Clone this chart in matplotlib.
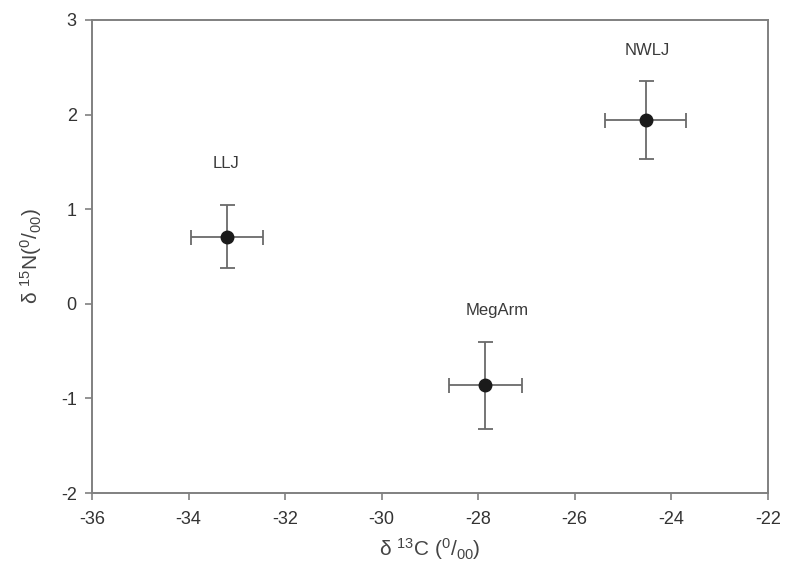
import matplotlib
matplotlib.use("Agg")
import matplotlib.pyplot as plt

plt.rcParams['font.family'] = ['Liberation Sans', 'DejaVu Sans']
plt.rcParams['mathtext.fontset'] = 'custom'
plt.rcParams['mathtext.rm'] = 'Liberation Sans'
plt.rcParams['mathtext.it'] = 'Liberation Sans'

groups = ["LLJ", "MegArm", "NWLJ"]
d13c = [-33.2, -27.85, -24.53]
d13c_err = [0.74, 0.75, 0.84]
d15n = [0.71, -0.86, 1.94]
d15n_err = [0.33, 0.46, 0.41]
label_x = [-33.23, -27.61, -24.5]
label_y = [1.48, -0.07, 2.68]

xticks = [-36, -34, -32, -30, -28, -26, -24, -22]
yticks = [-2, -1, 0, 1, 2, 3]

fig = plt.figure(figsize=(7.85, 5.79), dpi=100)
ax = fig.add_axes([0.1172, 0.1485, 0.8608, 0.817])

ax.errorbar(d13c, d15n, xerr=d13c_err, yerr=d15n_err, fmt='o', color='#1a1a1a',
            ecolor='#6a6a6a', elinewidth=1.3, capsize=5.4, capthick=1.3, markersize=9, zorder=3)

for g, x, y in zip(groups, label_x, label_y):
    ax.text(x, y, g, ha='center', va='center', fontsize=12, color='#3a3a3a')

ax.set_xlim(-36, -22)
ax.set_ylim(-2, 3)
ax.set_xticks(xticks)
ax.set_yticks(yticks)
ax.set_xticklabels([str(t) for t in xticks])
ax.set_yticklabels([str(t) for t in yticks])

for s in ax.spines.values():
    s.set_color('#808080')
    s.set_linewidth(1.4)
ax.tick_params(direction='out', length=5, width=1.2, color='#808080',
               labelsize=13, labelcolor='#333333')
ax.tick_params(axis='x', pad=8)
ax.tick_params(axis='y', pad=6)

ax.set_xlabel(r'δ $^{13}$C ($^{0}$/$_{00}$)', fontsize=15, color='#444444', labelpad=6)
ax.set_ylabel(r'δ $^{15}$N($^{0}$/$_{00}$)', fontsize=15, color='#444444', labelpad=12)

fig.savefig("out.png", dpi=100)
